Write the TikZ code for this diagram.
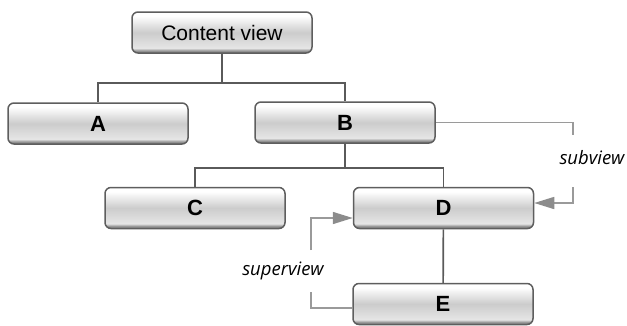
\documentclass[tikz,border=0pt]{standalone}
\usepackage{fontspec}
\setmainfont{Liberation Sans}
\newfontfamily\lblfont{Open Sans}
\usetikzlibrary{arrows.meta}
\definecolor{linegray}{HTML}{5A5A5A}
\definecolor{relgray}{HTML}{9A9A9A}
\definecolor{tipgray}{HTML}{8C8C8C}
\definecolor{boxedge}{HTML}{5E5E5E}
\pgfdeclareverticalshading{viewshade}{100bp}{%
  color(0bp)=(black!55); color(25bp)=(black!55); color(28bp)=(black!40);
  color(31bp)=(black!10); color(50bp)=(black!20); color(70bp)=(white);
  color(75bp)=(white); color(100bp)=(white)}
\begin{document}
\begin{tikzpicture}[
    x=1pt, y=-1pt,
    view/.style={draw=boxedge, line width=1.5pt, rounded corners=6pt,
      shading=viewshade, minimum width=180pt, minimum height=41pt,
      inner sep=0pt, font=\fontsize{22}{22}\selectfont\bfseries},
    tree/.style={draw=linegray, line width=1.7pt},
    rel/.style={draw=relgray, line width=1.6pt},
    relarrow/.style={rel, -{Triangle[length=20pt, width=12pt, fill=tipgray, color=tipgray]}},
    lbl/.style={font=\lblfont\itshape\fontsize{18.5}{18.5}\selectfont, inner sep=1pt}
    ]
    \useasboundingbox (0,0) rectangle (627,325);

    \node[view, font=\fontsize{21}{21}\selectfont] (cv) at (222,32.5) {Content view};
    \node[view] (A) at (98,123.5) {A};
    \node[view] (B) at (345,122.5) {B};
    \node[view] (C) at (195,208) {C};
    \node[view] (D) at (443.5,208) {D};
    \node[view] (E) at (443,304) {E};

    \coordinate (j1) at (222,83);
    \coordinate (j2) at (345,168);
    \draw[tree] (cv) -- (j1);
    \draw[tree] (A.north) |- (j1) -| (B.north);
    \draw[tree] (B) -- (j2);
    \draw[tree] (C.north) |- (j2) -| (D.north);
    \draw[tree] (D) -- (E);

    \node[lbl] (sub) at (592,158) {subview};
    \coordinate (subtop) at (573,135);
    \coordinate (subbot) at (573,187);
    \draw[rel] (B.east) -| (subtop);
    \draw[relarrow] (subbot) |- ([yshift=5pt]D.east);

    \node[lbl] (sup) at (283,271) {superview};
    \coordinate (suptop) at (311,250);
    \coordinate (supbot) at (311,292);
    \draw[rel] ([yshift=-4pt]E.west) -| (supbot);
    \draw[relarrow] (suptop) |- ([yshift=-10pt]D.west);
\end{tikzpicture}
\end{document}
